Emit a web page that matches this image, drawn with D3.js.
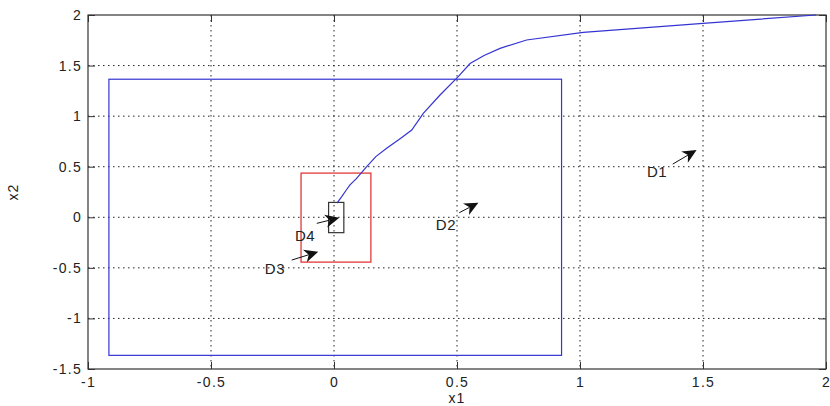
<!DOCTYPE html>
<html>
<head>
<meta charset="utf-8">
<script src="https://cdn.jsdelivr.net/npm/d3@7"></script>
<style>
  body { margin: 0; background: #fff; }
  text { font-family: "Liberation Sans", Arial, sans-serif; }
</style>
</head>
<body>
<div id="chart"></div>
<script>
// tick values
var xTicks = [-1, -0.5, 0, 0.5, 1, 1.5, 2];
var yTicks = [-1.5, -1, -0.5, 0, 0.5, 1, 1.5, 2];

// trajectory (x1, x2)
var trajX = [0.012, 0.03, 0.05, 0.065, 0.09, 0.133, 0.17, 0.214, 0.27, 0.316, 0.363, 0.431, 0.505, 0.553, 0.61, 0.675, 0.783, 1.013, 1.5, 1.96];
var trajY = [0.14, 0.2, 0.27, 0.32, 0.38, 0.5, 0.6, 0.682, 0.78, 0.863, 1.028, 1.209, 1.39, 1.52, 1.6, 1.67, 1.753, 1.829, 1.918, 2.0];

// regions as boxes
var boxX0 = [-0.915, -0.134, -0.022];
var boxX1 = [0.925, 0.15, 0.04];
var boxY0 = [-1.365, -0.443, -0.152];
var boxY1 = [1.365, 0.437, 0.147];
var boxColors = ["#3434d2", "#e02828", "#333333"];

// annotation arrows
var arrowLabels = ["D1", "D2", "D3", "D4"];
var tailX = [1.377, 0.509, -0.172, -0.07];
var tailY = [0.526, 0.045, -0.423, -0.06];
var tipX = [1.474, 0.587, -0.064, 0.0215];
var tipY = [0.665, 0.144, -0.341, -0.005];
var labelX = [1.313, 0.455, -0.24, -0.118];
var labelY = [0.4, -0.127, -0.562, -0.235];

var margin = {top: 15, right: 4, bottom: 37, left: 88},
    width = 830 - margin.left - margin.right,
    height = 406 - margin.top - margin.bottom;

var svg = d3.select("#chart")
  .append("svg")
    .attr("width", 830)
    .attr("height", 406)
  .append("g")
    .attr("transform", "translate(" + margin.left + "," + margin.top + ")");

var x = d3.scaleLinear().domain([-1, 2]).range([0, width]);
var y = d3.scaleLinear().domain([-1.5, 2]).range([height, 0]);

// grid
svg.append("g").selectAll("line")
  .data(xTicks.slice(1, -1))
  .enter().append("line")
    .attr("x1", function(d) { return x(d); })
    .attr("x2", function(d) { return x(d); })
    .attr("y1", 0).attr("y2", height)
    .attr("stroke", "#222").attr("stroke-width", 1)
    .attr("stroke-dasharray", "1.5,3.5");
svg.append("g").selectAll("line")
  .data(yTicks.slice(1, -1))
  .enter().append("line")
    .attr("y1", function(d) { return y(d); })
    .attr("y2", function(d) { return y(d); })
    .attr("x1", 0).attr("x2", width)
    .attr("stroke", "#222").attr("stroke-width", 1)
    .attr("stroke-dasharray", "1.5,3.5");

// axes
function fmt(d) { return String(d); }
function styleAxis(g) {
  g.select(".domain").remove();
  g.selectAll(".tick line").attr("stroke", "#333");
  g.selectAll("text").attr("fill", "#222")
    .style("font-size", "14px").style("letter-spacing", "1.3px");
}
svg.append("g")
  .attr("transform", "translate(0," + height + ")")
  .call(d3.axisBottom(x).tickValues(xTicks).tickSizeInner(-7).tickSizeOuter(0).tickPadding(8).tickFormat(fmt))
  .call(styleAxis);
svg.append("g")
  .call(d3.axisLeft(y).tickValues(yTicks).tickSizeInner(-7).tickSizeOuter(0).tickPadding(6).tickFormat(fmt))
  .call(styleAxis);
svg.append("g")
  .call(d3.axisTop(x).tickValues(xTicks).tickSizeInner(-7).tickSizeOuter(0).tickFormat(""))
  .call(styleAxis);
svg.append("g")
  .attr("transform", "translate(" + width + ",0)")
  .call(d3.axisRight(y).tickValues(yTicks).tickSizeInner(-7).tickSizeOuter(0).tickFormat(""))
  .call(styleAxis);

svg.append("rect")
  .attr("width", width).attr("height", height)
  .attr("fill", "none").attr("stroke", "#333").attr("stroke-width", 1.2);

// boxes
svg.append("g").selectAll("rect")
  .data(boxX0)
  .enter().append("rect")
    .attr("x", function(d, i) { return x(boxX0[i]); })
    .attr("y", function(d, i) { return y(boxY1[i]); })
    .attr("width", function(d, i) { return x(boxX1[i]) - x(boxX0[i]); })
    .attr("height", function(d, i) { return y(boxY0[i]) - y(boxY1[i]); })
    .attr("fill", "none")
    .attr("stroke", function(d, i) { return boxColors[i]; })
    .attr("stroke-width", 1.2);

// trajectory
var line = d3.line()
  .x(function(d, i) { return x(trajX[i]); })
  .y(function(d, i) { return y(trajY[i]); });
svg.append("path")
  .attr("d", line(trajX))
  .attr("fill", "none")
  .attr("stroke", "#3434d2")
  .attr("stroke-width", 1.2);

// arrows
arrowLabels.forEach(function(lab, i) {
  var x0 = x(tailX[i]), y0 = y(tailY[i]), x1 = x(tipX[i]), y1 = y(tipY[i]);
  var dx = x1 - x0, dy = y1 - y0, len = Math.sqrt(dx * dx + dy * dy);
  var ux = dx / len, uy = dy / len, nx = -uy, ny = ux;
  var L = 14, w = 6.5, notch = 4;
  svg.append("line")
    .attr("x1", x0).attr("y1", y0)
    .attr("x2", x1 - ux * (L - notch)).attr("y2", y1 - uy * (L - notch))
    .attr("stroke", "#111").attr("stroke-width", 1);
  var pts = [
    [x1, y1],
    [x1 - ux * L + nx * w, y1 - uy * L + ny * w],
    [x1 - ux * (L - notch), y1 - uy * (L - notch)],
    [x1 - ux * L - nx * w, y1 - uy * L - ny * w]
  ];
  svg.append("polygon")
    .attr("points", pts.map(function(p) { return p.join(","); }).join(" "))
    .attr("fill", "#111");
  svg.append("text")
    .attr("x", x(labelX[i]))
    .attr("y", y(labelY[i]))
    .attr("text-anchor", "middle")
    .attr("fill", "#222")
    .style("font-size", "15px")
    .style("letter-spacing", "0.5px")
    .text(lab);
});

// axis labels
svg.append("text")
  .attr("x", width / 2)
  .attr("y", height + 34)
  .attr("text-anchor", "middle")
  .attr("fill", "#222")
  .style("font-size", "14px")
  .style("letter-spacing", "1px")
  .text("x1");
svg.append("text")
  .attr("transform", "translate(" + (-70) + "," + (height / 2) + ") rotate(-90)")
  .attr("text-anchor", "middle")
  .attr("fill", "#222")
  .style("font-size", "14px")
  .style("letter-spacing", "1px")
  .text("x2");
</script>
</body>
</html>
